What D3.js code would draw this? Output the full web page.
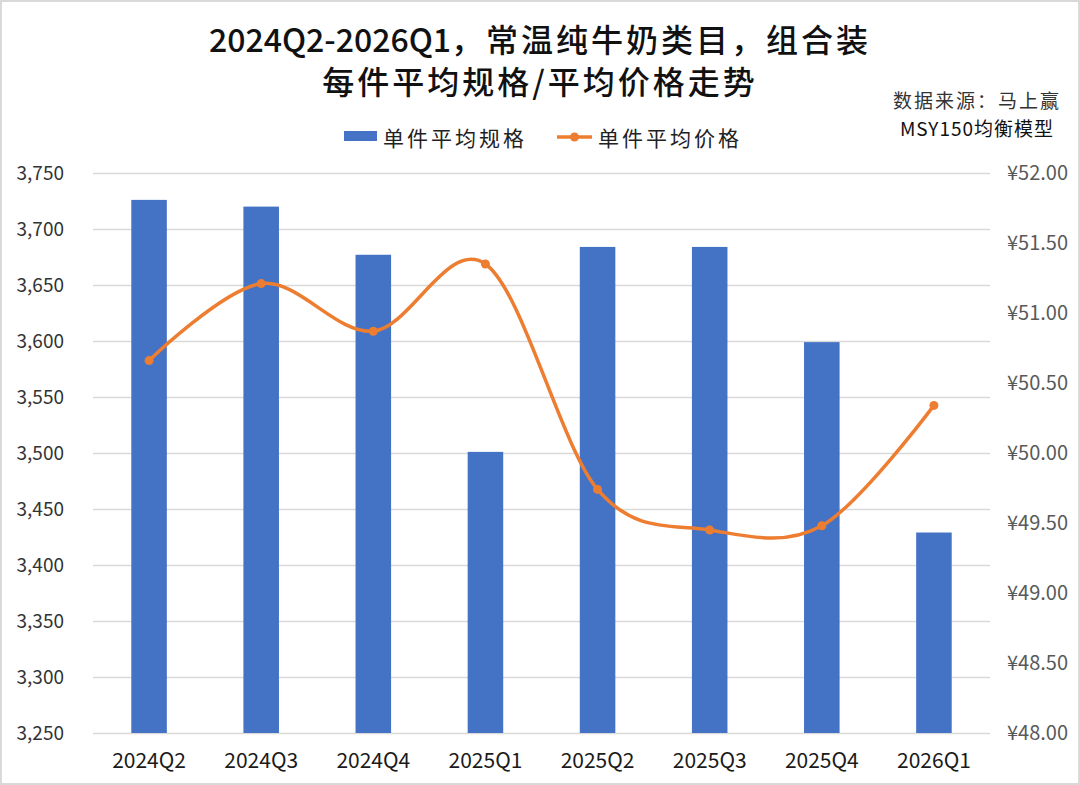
<!DOCTYPE html>
<html>
<head>
<meta charset="utf-8">
<script src="https://cdn.jsdelivr.net/npm/d3@7"></script>
<style>
  body { margin: 0; background: #fff; }
  svg { display: block; font-family: "Noto Sans CJK SC", "Noto Sans", sans-serif; }
</style>
</head>
<body>
<div id="chart"></div>
<script>
// 数据
const quarters = ["2024Q2", "2024Q3", "2024Q4", "2025Q1", "2025Q2", "2025Q3", "2025Q4", "2026Q1"];
const avgSpec = [3726, 3720, 3677, 3501, 3684, 3684, 3599, 3429];
const avgPrice = [50.66, 51.21, 50.87, 51.35, 49.74, 49.45, 49.48, 50.34];
const specTicks = [3250, 3300, 3350, 3400, 3450, 3500, 3550, 3600, 3650, 3700, 3750];
const priceTicks = [48, 48.5, 49, 49.5, 50, 50.5, 51, 51.5, 52];

const width = 1080;
const height = 785;
const plot = { left: 93, right: 990, top: 173, bottom: 733 };

const svg = d3.select("#chart")
  .append("svg")
  .attr("width", width)
  .attr("height", height);

// 外框
svg.append("rect")
  .attr("x", 1).attr("y", 1)
  .attr("width", width - 2).attr("height", height - 2)
  .attr("fill", "#fff")
  .attr("stroke", "#d9d9d9")
  .attr("stroke-width", 2);

// 比例尺
const x = d3.scaleBand()
  .domain(quarters)
  .range([plot.left, plot.right])
  .paddingInner(0.683)
  .paddingOuter(0.683 / 2);

const yL = d3.scaleLinear()
  .domain([3250, 3750])
  .range([plot.bottom, plot.top]);

const yR = d3.scaleLinear()
  .domain([48, 52])
  .range([plot.bottom, plot.top]);

// 网格线
svg.append("g")
  .attr("transform", `translate(${plot.left},0)`)
  .call(d3.axisLeft(yL).tickValues(specTicks).tickSize(-(plot.right - plot.left)).tickFormat(""))
  .call((g) => g.select(".domain").remove())
  .call((g) => g.selectAll("line").attr("stroke", "#d9d9d9").attr("stroke-width", 1.5));

// 柱子
svg.append("g")
  .selectAll("rect")
  .data(avgSpec)
  .join("rect")
  .attr("x", (d, i) => x(quarters[i]))
  .attr("y", (d) => yL(d))
  .attr("width", x.bandwidth())
  .attr("height", (d) => yL(3250) - yL(d))
  .attr("fill", "#4472c4");

// 左轴
svg.append("g")
  .attr("transform", `translate(${plot.left},0)`)
  .call(d3.axisLeft(yL).tickValues(specTicks).tickSize(0).tickPadding(29).tickFormat(d3.format(",")))
  .call((g) => g.select(".domain").remove())
  .call((g) => g.selectAll("text")
    .attr("fill", "#333")
    .style("font-size", "19px")
    .style("font-family", "'Noto Sans CJK SC', sans-serif"));

// 右轴
svg.append("g")
  .attr("transform", `translate(${plot.right},0)`)
  .call(d3.axisRight(yR).tickValues(priceTicks).tickSize(0).tickPadding(17).tickFormat((d) => "¥" + d3.format(".2f")(d)))
  .call((g) => g.select(".domain").remove())
  .call((g) => g.selectAll("text")
    .attr("fill", "#595959")
    .style("font-size", "20px")
    .style("font-family", "'Noto Sans CJK SC', sans-serif"));

// 底轴
svg.append("g")
  .attr("transform", `translate(0,${plot.bottom})`)
  .call(d3.axisBottom(x).tickSize(0).tickPadding(20))
  .call((g) => g.select(".domain").remove())
  .call((g) => g.selectAll("text")
    .attr("fill", "#1a1a1a")
    .style("font-size", "21px")
    .style("font-family", "'Noto Sans CJK SC', sans-serif"));

// 价格折线（平滑）
const line = d3.line()
  .x((d, i) => x(quarters[i]) + x.bandwidth() / 2)
  .y((d) => yR(d))
  .curve(d3.curveCardinal.tension(0));

svg.append("path")
  .datum(avgPrice)
  .attr("d", line)
  .attr("fill", "none")
  .attr("stroke", "#ed7d31")
  .attr("stroke-width", 3.5)
  .attr("stroke-linecap", "round");

svg.append("g")
  .selectAll("circle")
  .data(avgPrice)
  .join("circle")
  .attr("cx", (d, i) => x(quarters[i]) + x.bandwidth() / 2)
  .attr("cy", (d) => yR(d))
  .attr("r", 4.5)
  .attr("fill", "#ed7d31");

// 标题
const title = svg.append("text")
  .attr("text-anchor", "middle")
  .attr("fill", "#111")
  .style("font-size", "32px")
  .style("font-weight", "500");
title.append("tspan")
  .attr("x", 540).attr("y", 52)
  .text("2024Q2-2026Q1")
  .append("tspan")
  .style("letter-spacing", "3px")
  .text("，常温纯牛奶类目，组合装");
title.append("tspan")
  .attr("x", 540).attr("y", 94)
  .style("letter-spacing", "3px")
  .text("每件平均规格/平均价格走势");

// 数据来源
svg.append("text")
  .attr("x", 977).attr("y", 108)
  .attr("text-anchor", "middle")
  .attr("fill", "#333")
  .style("font-size", "19px")
  .style("letter-spacing", "2px")
  .text("数据来源：马上赢");
svg.append("text")
  .attr("x", 977).attr("y", 136)
  .attr("text-anchor", "middle")
  .attr("fill", "#111")
  .style("font-size", "19px")
  .style("letter-spacing", "1px")
  .text("MSY150均衡模型");

// 图例
const legend = svg.append("g");
legend.append("rect")
  .attr("x", 344).attr("y", 131)
  .attr("width", 33).attr("height", 10)
  .attr("fill", "#4472c4");
legend.append("text")
  .attr("x", 383).attr("y", 137)
  .attr("dominant-baseline", "central")
  .attr("fill", "#222")
  .style("font-size", "21px")
  .style("letter-spacing", "3px")
  .text("单件平均规格");
legend.append("line")
  .attr("x1", 557).attr("x2", 592)
  .attr("y1", 137).attr("y2", 137)
  .attr("stroke", "#ed7d31")
  .attr("stroke-width", 3.5);
legend.append("circle")
  .attr("cx", 574.5).attr("cy", 137)
  .attr("r", 4.5)
  .attr("fill", "#ed7d31");
legend.append("text")
  .attr("x", 598).attr("y", 137)
  .attr("dominant-baseline", "central")
  .attr("fill", "#222")
  .style("font-size", "21px")
  .style("letter-spacing", "3px")
  .text("单件平均价格");
</script>
</body>
</html>
